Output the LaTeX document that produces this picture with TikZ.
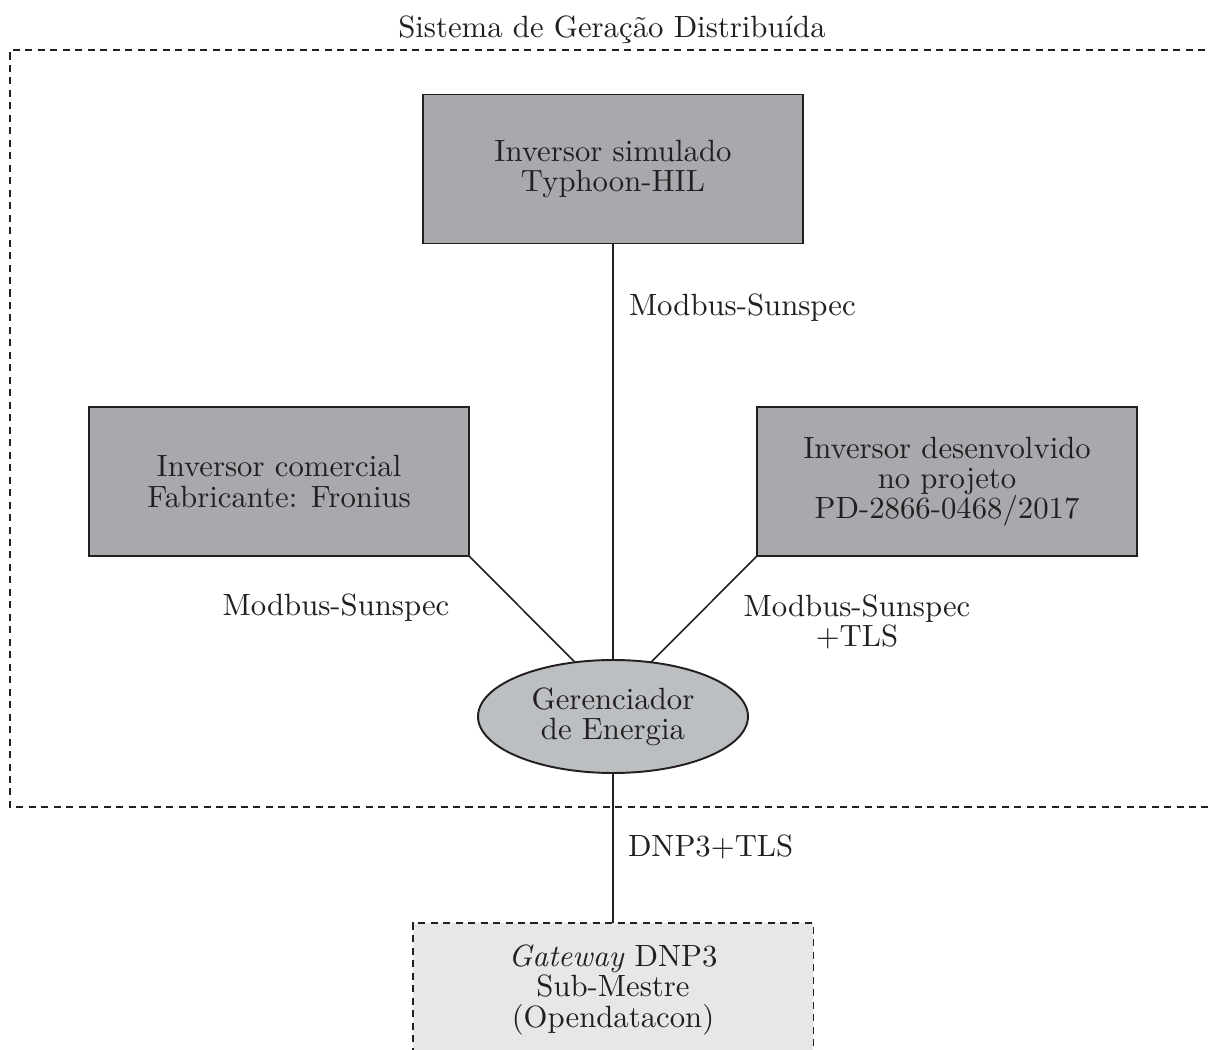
\documentclass[tikz,border=0pt]{standalone}
\usepackage{fontspec}
\setmainfont{lmroman10-regular.otf}[ItalicFont=lmroman10-italic.otf]
\usetikzlibrary{shapes.geometric}
\definecolor{boxgray}{HTML}{A7A9AC}
\definecolor{ellgray}{HTML}{BCBFC2}
\definecolor{gwgray}{HTML}{E6E7E8}
\definecolor{ink}{HTML}{231F20}
\begin{document}
\begin{tikzpicture}[x=0.02cm,y=-0.02cm,
  every node/.style={font=\fontsize{17.5}{17.1}\selectfont, inner sep=0pt, outer sep=0pt, text=ink},
  unit/.style={draw=ink, line width=1.1pt, fill=boxgray, align=center,
    minimum width=7.6cm, minimum height=2.98cm},
  hub/.style={ellipse, draw=ink, line width=1.1pt, fill=ellgray, align=center,
    minimum width=5.4cm, minimum height=2.26cm},
  gwbox/.style={draw=ink, dash pattern=on 4pt off 3.1pt, line width=1.1pt, fill=gwgray,
    align=center, minimum width=8.02cm, minimum height=2.68cm},
  link/.style={draw=ink, line width=0.9pt},
  frame/.style={draw=ink, dash pattern=on 4pt off 3.1pt, line width=1.1pt}]
\useasboundingbox (0,0) rectangle (1208,1050);
\clip (0,0) rectangle (1208,1050);

% distributed generation area (open on the right)
\draw[frame] (1230,50) -- (10,50) -- (10,807) -- (1230,807);
\node[anchor=base] (title) at (612,38) {Sistema de Geração Distribuída};

% inverters and energy manager
\node[unit] (ty) at (613,169) {Inversor simulado\\Typhoon-HIL};
\node[unit] (fr) at (279,481.5) {Inversor comercial\\Fabricante: Fronius};
\node[unit] (de) at (947,481.5) {Inversor desenvolvido\\no projeto\\PD-2866-0468/2017};
\node[hub] (ge) at (613,716.5) {Gerenciador\\de Energia};

% DNP3 gateway
\node[gwbox] (gw) at (613,990) {\textit{Gateway} DNP3\\Sub-Mestre\\(Opendatacon)};

% links
\draw[link] (ty.south) -- (ge.north);
\draw[link] (fr.south east) -- (ge.125);
\draw[link] (de.south west) -- (ge.55);
\draw[link] (ge.south) -- (gw.north);

% protocol labels
\node[anchor=base west] (l1) at (629,316) {Modbus-Sunspec};
\node[anchor=base] (l2) at (336,616) {Modbus-Sunspec};
\node[align=center] (l3) at (857,622) {Modbus-Sunspec\\+TLS};
\node[anchor=base west] (l4) at (628,857) {DNP3+TLS};
\end{tikzpicture}
\end{document}
